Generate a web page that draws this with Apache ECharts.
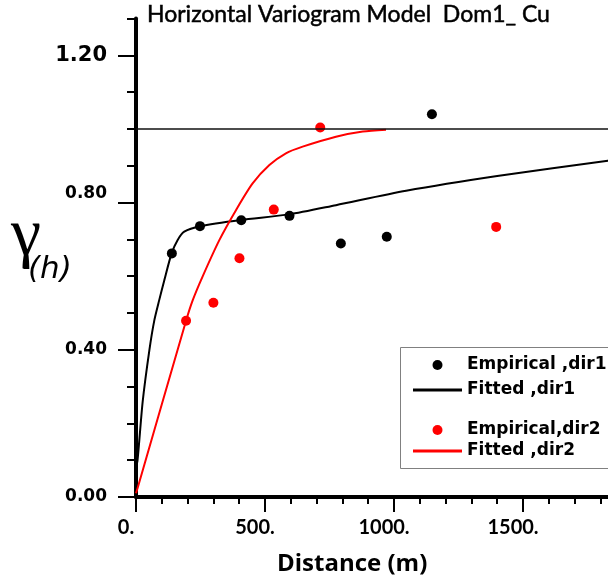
<!DOCTYPE html>
<html>
<head>
<meta charset="utf-8">
<script src="https://cdn.jsdelivr.net/npm/echarts@6/dist/echarts.min.js"></script>
<style>html,body{margin:0;padding:0;background:#fff;}#chart{width:608px;height:586px;}</style>
</head>
<body>
<div id="chart"></div>
<script>
// ---- data ----
const empDist1 = [139, 248, 408, 595, 794, 972, 1147];
const empGamma1 = [0.662, 0.736, 0.752, 0.764, 0.689, 0.707, 1.040];
const empDist2 = [194, 300, 401, 534, 714, 1396];
const empGamma2 = [0.479, 0.528, 0.649, 0.781, 1.004, 0.734];
const fitDist1 = [0, 6, 26, 52, 71, 90, 110, 138, 161, 187, 248, 407, 594, 775, 1047, 1400, 1829, 2000];
const fitGamma1 = [0.08, 0.10, 0.26, 0.40, 0.48, 0.535, 0.59, 0.662, 0.698, 0.721, 0.736, 0.753, 0.768, 0.793, 0.832, 0.872, 0.914, 0.930];
const fitDist2 = [0, 6, 194, 220, 258, 323, 388, 452, 517, 581, 646, 775, 879, 969];
const fitGamma2 = [0.01, 0.024, 0.479, 0.535, 0.599, 0.698, 0.78, 0.852, 0.902, 0.934, 0.952, 0.979, 0.993, 0.998];
const sill = 1.0;
const seriesNames = ['Empirical ,dir1', 'Fitted ,dir1', 'Empirical,dir2', 'Fitted ,dir2'];
const chartTitle = 'Horizontal Variogram Model  Dom1_ Cu';
const xTitle = 'Distance (m)';
const yTitleMain = 'γ';
const yTitleSub = '(h)';

const zip = (xs, ys) => xs.map((x, i) => [x, ys[i]]);

const chart = echarts.init(document.getElementById('chart'), null, {renderer: 'canvas'});
const black = '#000000', red = '#ff0000';
const tickFont = 'DejaVu Sans';
const lineIcon = 'path://M0,0h49v3h-49z';
const legendText = {fontFamily: 'DejaVu Sans', fontWeight: 'bold', fontSize: 17, color: '#000', lineHeight: 20};

const option = {
  animation: false,
  backgroundColor: '#ffffff',
  title: [
    {text: chartTitle, left: 147, top: 3, padding: 0,
     textStyle: {fontFamily: 'Lato', fontSize: 23, fontWeight: 'normal', color: '#000',
       textBorderColor: '#000', textBorderWidth: 0.5}},
    {text: xTitle, left: 277, top: 552, padding: 0,
     textStyle: {fontFamily: 'Open Sans', fontSize: 24, fontWeight: 'bold', color: '#000'}},
    {text: yTitleMain, left: 11, top: 203, padding: 0,
     textStyle: {fontFamily: 'Liberation Serif', fontSize: 68, fontWeight: 'normal', color: '#000'}},
    {text: yTitleSub, left: 28, top: 254, padding: 0,
     textStyle: {fontFamily: 'DejaVu Sans', fontSize: 31, fontStyle: 'italic', fontWeight: 'normal', color: '#000'}}
  ],
  grid: [
    {left: 136, top: 18.6, width: 516, height: 478.4, outerBoundsMode: 'none'},
    {left: 136, top: 55.4, width: 516, height: 441.6, outerBoundsMode: 'none'}
  ],
  xAxis: [
    {type: 'value', gridIndex: 0, min: 0, max: 2000, interval: 500,
     axisLine: {show: true, onZero: false, lineStyle: {color: black, width: 4}},
     axisTick: {show: true, length: 15, lineStyle: {color: black, width: 2}},
     minorTick: {show: true, splitNumber: 5, length: 7, lineStyle: {color: black, width: 2}},
     splitLine: {show: false}, minorSplitLine: {show: false},
     axisLabel: {show: true, margin: 21, color: '#000', fontFamily: 'Lato', fontWeight: 'bold', fontSize: 20,
       padding: [0, 20, 0, 0], formatter: v => v + '.'}},
    {type: 'value', gridIndex: 1, min: 0, max: 2000, show: false}
  ],
  yAxis: [
    {type: 'value', gridIndex: 0, min: 0, max: 1.3, interval: 0.1,
     axisLine: {show: true, onZero: false, lineStyle: {color: black, width: 4}},
     axisTick: {show: true, length: 9, lineStyle: {color: black, width: 2}},
     splitLine: {show: false}, axisLabel: {show: false}},
    {type: 'value', gridIndex: 1, min: 0, max: 1.2, interval: 0.4,
     axisLine: {show: false},
     axisTick: {show: true, length: 18, lineStyle: {color: black, width: 2}},
     splitLine: {show: false},
     axisLabel: {show: true, margin: 29, color: '#000',
       formatter: function (v) {
         if (Math.abs(v - 1.2) < 1e-6) return '{big|1.20}';
         if (Math.abs(v - 0.8) < 1e-6) return '{up|0.80}';
         return '{n|' + v.toFixed(2) + '}';
       },
       rich: {
         big: {fontFamily: tickFont, fontWeight: 'bold', fontSize: 21, color: '#000'},
         n: {fontFamily: tickFont, fontWeight: 'bold', fontSize: 17, color: '#000'},
         up: {fontFamily: tickFont, fontWeight: 'bold', fontSize: 17, color: '#000', padding: [0, 0, 18, 0]}
       }}}
  ],
  legend: [
    {data: [{name: seriesNames[0], icon: 'circle'}, {name: seriesNames[1], icon: lineIcon}],
     orient: 'vertical', left: 413, top: 355, padding: 0,
     itemWidth: 49, itemHeight: 10, itemGap: 5, selectedMode: false,
     textStyle: legendText},
    {data: [{name: seriesNames[2], icon: 'circle'}, {name: seriesNames[3], icon: lineIcon}],
     orient: 'vertical', left: 413, top: 420, padding: 0,
     itemWidth: 49, itemHeight: 10, itemGap: 1, selectedMode: false,
     textStyle: legendText}
  ],
  graphic: [
    {type: 'rect', z: 1, shape: {x: 400.5, y: 347.5, width: 300, height: 121},
     style: {fill: '#ffffff', stroke: '#808080', lineWidth: 1}}
  ],
  series: [
    {name: seriesNames[1], type: 'line', xAxisIndex: 0, yAxisIndex: 0, data: zip(fitDist1, fitGamma1),
     symbol: 'none', showSymbol: false, smooth: 0.25,
     lineStyle: {color: black, width: 2}, itemStyle: {color: black}, z: 3,
     markLine: {silent: true, symbol: 'none', label: {show: false},
       lineStyle: {color: '#111', width: 1.5, type: 'solid'}, data: [{yAxis: sill}]}},
    {name: seriesNames[3], type: 'line', xAxisIndex: 0, yAxisIndex: 0, data: zip(fitDist2, fitGamma2),
     symbol: 'none', showSymbol: false, smooth: 0.25,
     lineStyle: {color: red, width: 2}, itemStyle: {color: red}, z: 3},
    {name: seriesNames[0], type: 'scatter', xAxisIndex: 0, yAxisIndex: 0, data: zip(empDist1, empGamma1),
     symbol: 'circle', symbolSize: 10, itemStyle: {color: black, opacity: 1}, z: 4},
    {name: seriesNames[2], type: 'scatter', xAxisIndex: 0, yAxisIndex: 0, data: zip(empDist2, empGamma2),
     symbol: 'circle', symbolSize: 10, itemStyle: {color: red, opacity: 1}, z: 4}
  ]
};
chart.setOption(option);
</script>
</body>
</html>
